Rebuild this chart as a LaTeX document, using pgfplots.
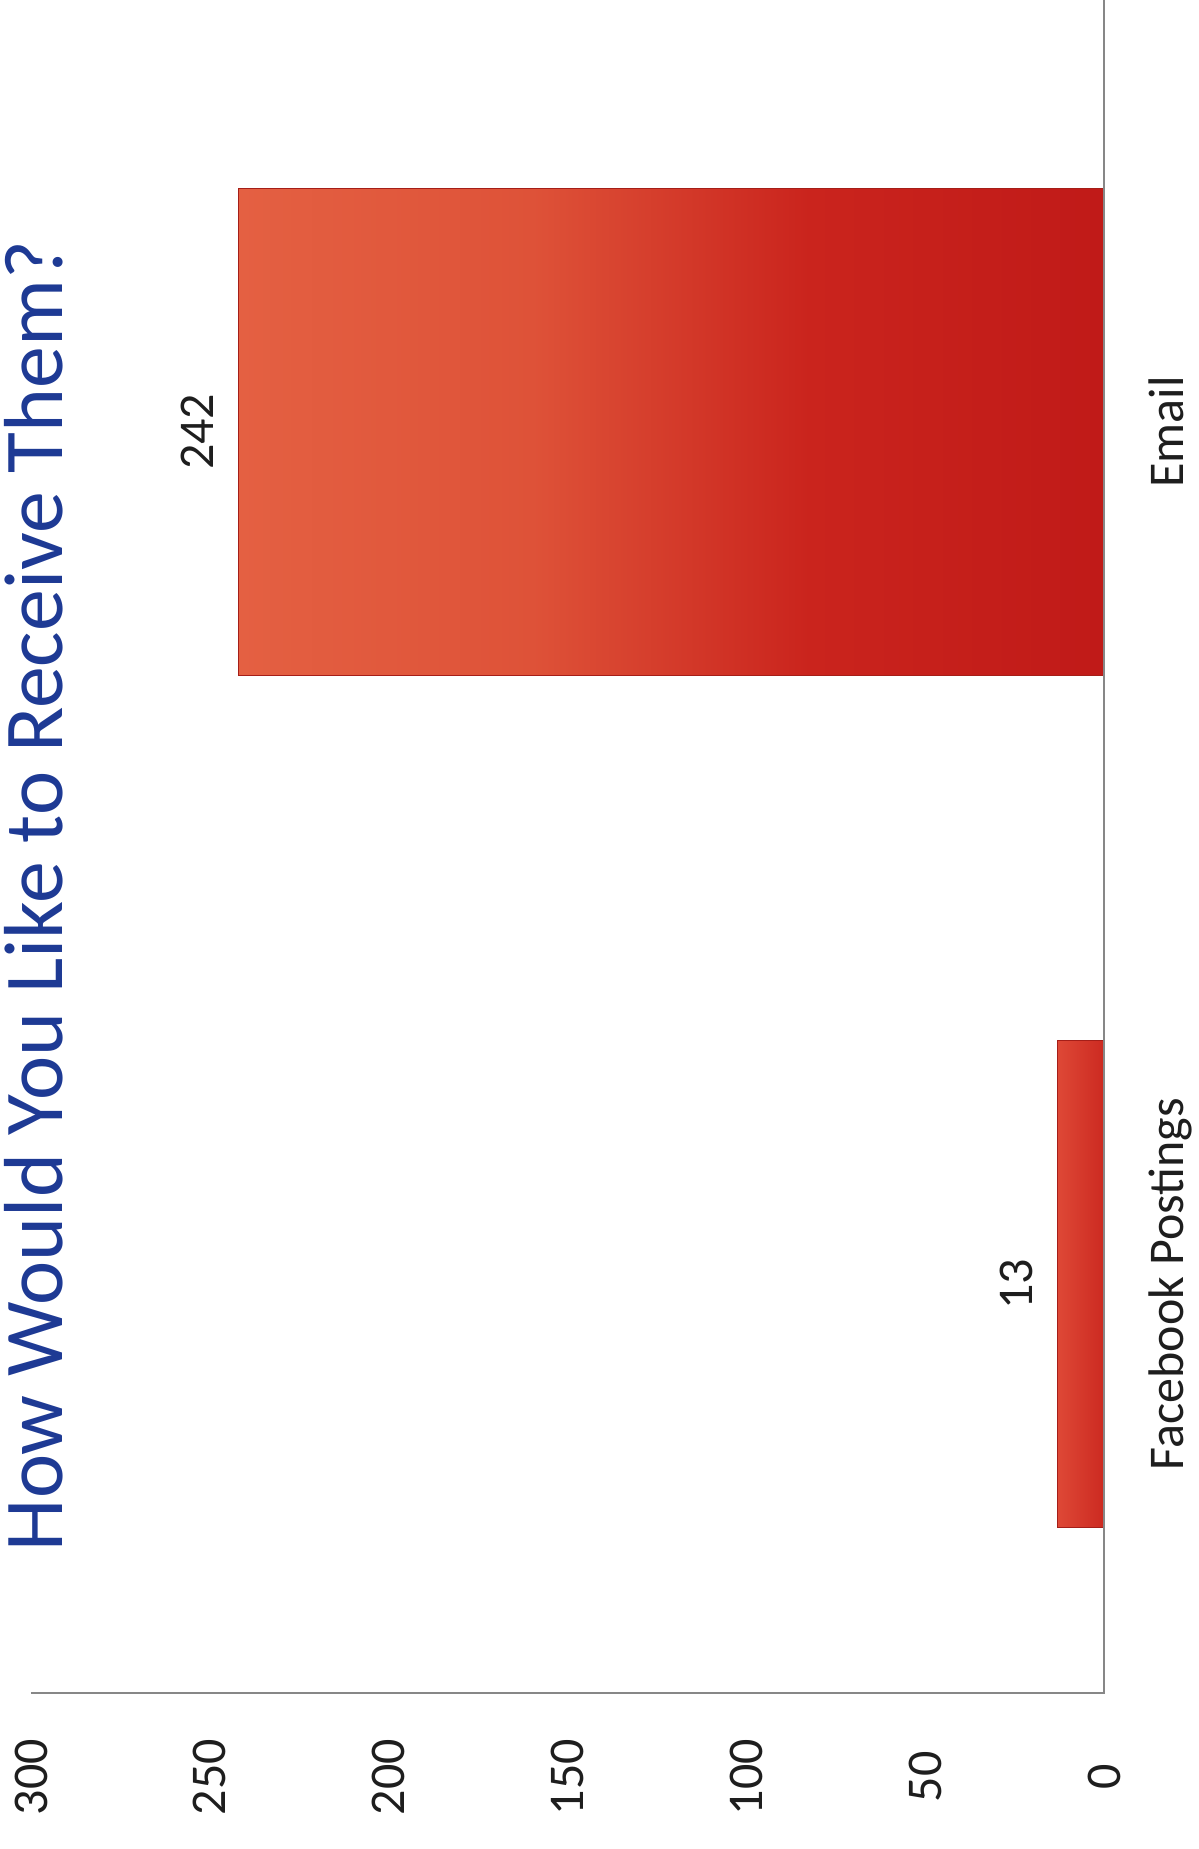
\documentclass[border=0pt]{standalone}
\usepackage{fontspec}
\setmainfont{Carlito}
\usepackage{pgfplots}
\pgfplotsset{compat=1.18}
\definecolor{titleblue}{RGB}{30,58,148}
\definecolor{barA}{RGB}{228,96,66}
\definecolor{barB}{RGB}{222,82,56}
\definecolor{barC}{RGB}{202,36,29}
\definecolor{barD}{RGB}{192,26,24}
\definecolor{fblight}{RGB}{222,72,54}
\definecolor{fbdark}{RGB}{204,42,33}
\definecolor{baredge}{RGB}{165,30,24}
\definecolor{axisgray}{RGB}{135,135,135}
\definecolor{labelblack}{RGB}{30,30,30}
\pgfdeclarehorizontalshading{emailbar}{100bp}{color(0bp)=(barA); color(25bp)=(barA); color(42bp)=(barB); color(58bp)=(barC); color(75bp)=(barD); color(100bp)=(barD)}
\begin{document}
\begin{tikzpicture}
\path[use as bounding box] (-12.4pt,-62.4pt) rectangle (467.2pt,677.2pt);
\begin{axis}[
  scale only axis, width=429.2pt, height=677.2pt,
  xbar, x dir=reverse,
  xmin=0, xmax=300, ymin=-0.48, ymax=1.507,
  axis line style={draw=none},
  tick style={draw=none},
  xtick={0,50,...,300},
  ytick={0,1}, yticklabels={Facebook Postings, Email},
  yticklabel pos=right,
  /pgf/number format/assume math mode=true,
  xticklabel style={font=\fontsize{20}{24}\selectfont, text=labelblack, inner sep=1pt, yshift=-33.6pt, rotate=90, anchor=center},
  yticklabel style={font=\fontsize{20}{24}\selectfont, text=labelblack, inner sep=0pt, xshift=27.4pt, rotate=90, anchor=base},
  bar width=0.5716,
  nodes near coords,
  nodes near coords style={font=\fontsize{20}{24}\selectfont, text=labelblack, xshift=-16.4pt, rotate=90, anchor=center},
  clip=false,
]
\addplot[bar shift=0pt, draw=baredge, line width=0.5pt, shading=emailbar] coordinates {(242,1)};
\addplot[bar shift=0pt, draw=baredge, line width=0.5pt, left color=fblight, right color=fbdark] coordinates {(13,0)};
\draw[axisgray, line width=0.6pt] (axis cs:300,-0.48) -- (axis cs:0,-0.48) -- (axis cs:0,1.507);
\end{axis}
\node[rotate=90, anchor=base, inner sep=0pt, text=titleblue, font=\fontsize{33.5}{40}\selectfont] at (12.4pt,318.8pt) {How Would You Like to Receive Them?};
\end{tikzpicture}
\end{document}
